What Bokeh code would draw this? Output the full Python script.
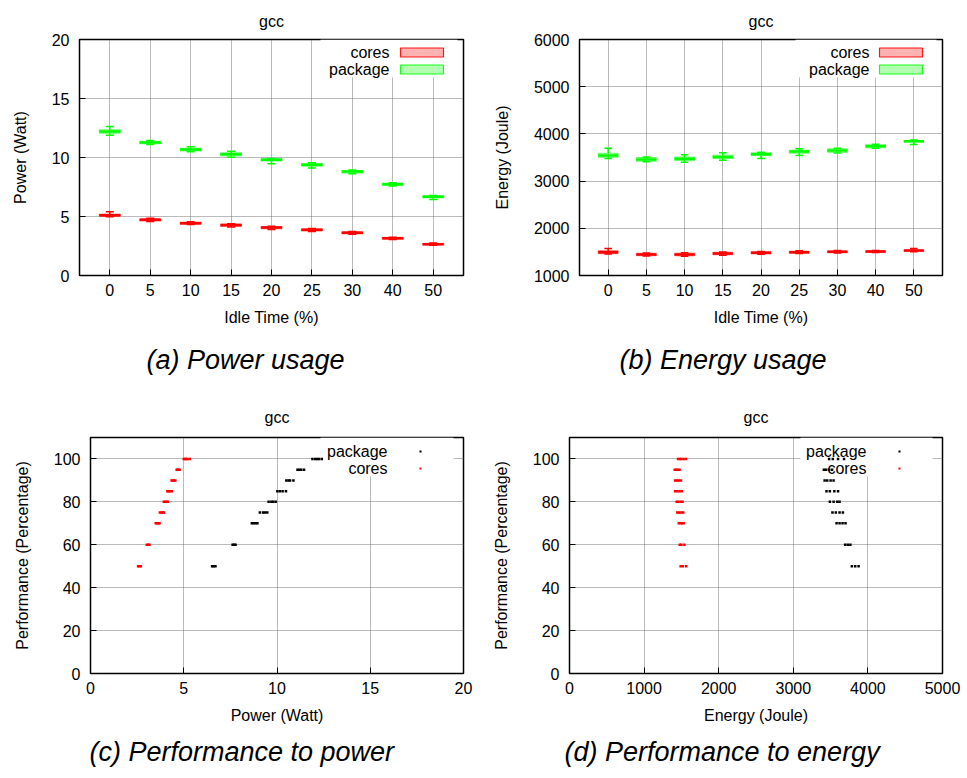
from bokeh.plotting import figure
from bokeh.models import (Range1d, FixedTicker, Label, Title,
                          BoxAnnotation, ColumnDataSource)
from bokeh.layouts import column, row
from bokeh.embed import file_html
from bokeh.resources import INLINE

FONT = "Liberation Sans"
RED = "#ff0000"
GREEN = "#00ff00"
BLACK = "#000000"

# ---------------- data ----------------
idle_labels = ["0", "5", "10", "15", "20", "25", "30", "40", "50"]
idle_pos = list(range(len(idle_labels)))
perf_levels = [100, 95, 90, 85, 80, 75, 70, 60, 50]

# (a) power box plots (Watt)
pkg_pw_med = [12.20, 11.27, 10.68, 10.28, 9.80, 9.38, 8.81, 7.74, 6.67]
pkg_pw_q1 = [12.05, 11.17, 10.55, 10.13, 9.70, 9.26, 8.68, 7.64, 6.58]
pkg_pw_q3 = [12.35, 11.37, 10.78, 10.40, 9.90, 9.50, 8.90, 7.83, 6.76]
pkg_pw_lo = [11.88, 11.10, 10.48, 10.02, 9.48, 9.12, 8.62, 7.58, 6.45]
pkg_pw_hi = [12.62, 11.45, 10.92, 10.52, 9.92, 9.55, 8.95, 7.86, 6.78]

cor_pw_med = [5.11, 4.72, 4.43, 4.27, 4.07, 3.87, 3.62, 3.16, 2.65]
cor_pw_q1 = [5.02, 4.62, 4.35, 4.16, 3.96, 3.77, 3.53, 3.08, 2.59]
cor_pw_q3 = [5.20, 4.80, 4.52, 4.35, 4.15, 3.95, 3.70, 3.23, 2.72]
cor_pw_lo = [4.98, 4.58, 4.32, 4.12, 3.90, 3.72, 3.50, 3.05, 2.57]
cor_pw_hi = [5.40, 4.85, 4.56, 4.38, 4.18, 3.98, 3.73, 3.25, 2.76]

# (b) energy box plots (Joule)
pkg_en_med = [3545, 3458, 3472, 3512, 3570, 3625, 3648, 3740, 3846]
pkg_en_q1 = [3505, 3420, 3435, 3478, 3540, 3590, 3610, 3705, 3828]
pkg_en_q3 = [3590, 3500, 3510, 3550, 3600, 3655, 3685, 3770, 3862]
pkg_en_lo = [3480, 3410, 3402, 3443, 3480, 3542, 3595, 3695, 3775]
pkg_en_hi = [3697, 3510, 3556, 3599, 3610, 3683, 3695, 3780, 3870]

cor_en_med = [1494, 1445, 1445, 1466, 1480, 1494, 1501, 1508, 1528]
cor_en_q1 = [1462, 1420, 1418, 1440, 1458, 1472, 1482, 1490, 1512]
cor_en_q3 = [1525, 1470, 1472, 1492, 1502, 1515, 1520, 1525, 1540]
cor_en_lo = [1455, 1412, 1410, 1430, 1448, 1465, 1478, 1485, 1505]
cor_en_hi = [1573, 1478, 1480, 1500, 1510, 1525, 1528, 1532, 1573]

# (c) performance vs power samples (one list per perf level)
cor_pw_samples = [
    [5.00, 5.08, 5.12, 5.20, 5.32],
    [4.62, 4.68, 4.72, 4.78],
    [4.35, 4.42, 4.47, 4.55],
    [4.12, 4.20, 4.27, 4.36],
    [3.93, 4.02, 4.08, 4.15],
    [3.72, 3.82, 3.88, 3.94],
    [3.50, 3.58, 3.64, 3.70],
    [3.02, 3.10, 3.16],
    [2.55, 2.63, 2.70],
]
pkg_pw_samples = [
    [11.90, 12.05, 12.15, 12.25, 12.40],
    [11.10, 11.20, 11.30, 11.45],
    [10.50, 10.62, 10.70, 10.88],
    [10.02, 10.15, 10.30, 10.48],
    [9.55, 9.70, 9.80, 9.93],
    [9.08, 9.25, 9.35, 9.48],
    [8.65, 8.75, 8.85, 8.95],
    [7.62, 7.70, 7.78],
    [6.52, 6.60, 6.70],
]
# (d) performance vs energy samples
cor_en_samples = [
    [1455, 1480, 1500, 1530, 1560],
    [1410, 1430, 1450, 1475],
    [1415, 1440, 1465, 1495],
    [1415, 1445, 1475, 1505],
    [1437, 1460, 1490, 1515],
    [1445, 1470, 1500, 1525],
    [1465, 1490, 1510, 1530],
    [1478, 1500, 1540],
    [1490, 1520, 1565],
]
pkg_en_samples = [
    [3480, 3530, 3600, 3680],
    [3410, 3440, 3480, 3520],
    [3420, 3455, 3500, 3540],
    [3445, 3490, 3550, 3600],
    [3490, 3540, 3590, 3620],
    [3525, 3570, 3620, 3665],
    [3580, 3620, 3660, 3700],
    [3695, 3730, 3765],
    [3785, 3830, 3875],
]

BOXW = 0.52
CAPW = 0.2


def fx(p, fw, px):
    r = p.x_range
    return r.start + (r.end - r.start) * px / fw


def fy(p, fh, px):
    r = p.y_range
    return r.end - (r.end - r.start) * px / fh


def make_fig(width, height, xr, yr, left, right, top, bottom, xticks, yticks,
             xlabel, ylabel, caption, cap_left, title_standoff, cap_standoff,
             xoverrides=None):
    p = figure(width=width, height=height, x_range=xr, y_range=yr,
               output_backend="svg", toolbar_location=None,
               min_border_left=left, min_border_right=right,
               min_border_top=top, min_border_bottom=bottom)
    xa = p.below[0]
    ya = p.left[0]
    p.background_fill_color = "white"
    p.border_fill_color = "white"
    p.outline_line_color = "black"
    p.outline_line_width = 1.5
    p.outline_line_alpha = 1.0
    p.title.text = "gcc"
    p.title.align = "center"
    p.title.text_font = FONT
    p.title.text_font_size = "16px"
    p.title.text_font_style = "normal"
    p.title.text_color = "black"
    p.title.standoff = title_standoff

    xa.ticker = FixedTicker(ticks=xticks)
    ya.ticker = FixedTicker(ticks=yticks)
    if xoverrides:
        xa.major_label_overrides = xoverrides
    for ax in (xa, ya):
        ax.axis_line_color = None
        ax.major_tick_in = 6
        ax.major_tick_out = 0
        ax.major_tick_line_color = "black"
        ax.major_tick_line_width = 1
        ax.minor_tick_line_color = None
        ax.major_label_text_font = FONT
        ax.major_label_text_font_size = "16px"
        ax.major_label_text_color = "black"
        ax.axis_label_text_font = FONT
        ax.axis_label_text_font_size = "16px"
        ax.axis_label_text_font_style = "normal"
        ax.axis_label_text_color = "black"
    xa.axis_label = xlabel
    ya.axis_label = ylabel
    xa.major_label_standoff = 8
    ya.major_label_standoff = 10
    xa.axis_label_standoff = 10
    ya.axis_label_standoff = 20

    grids = [r for r in p.center if r.__class__.__name__ == "Grid"]
    for g in grids:
        g.grid_line_color = "#666666"
        g.grid_line_dash = "1 1"
        g.grid_line_width = 1
        g.grid_line_alpha = 0.9
        g.ticker = FixedTicker(ticks=xticks if g.dimension == 0 else yticks)

    # sub-figure caption below the axis
    cap = Title(text=caption, align="left", offset=cap_left, vertical_align="middle",
                text_font=FONT, text_font_size="27px",
                text_font_style="italic", text_color="black", standoff=cap_standoff)
    p.add_layout(cap, "below")
    return p


def draw_boxes(p, q1, med, q3, lo, hi, color):
    src = ColumnDataSource(dict(x=idle_pos, q1=q1, med=med, q3=q3, lo=lo, hi=hi))
    p.segment(x0="x", y0="lo", x1="x", y1="q1", source=src, line_color=color, line_width=1.5)
    p.segment(x0="x", y0="q3", x1="x", y1="hi", source=src, line_color=color, line_width=1.5)
    p.rect(x="x", y="lo", width=CAPW, height=1.5, height_units="screen", source=src,
           fill_color=color, line_color=None)
    p.rect(x="x", y="hi", width=CAPW, height=1.5, height_units="screen", source=src,
           fill_color=color, line_color=None)
    p.vbar(x="x", width=BOXW, bottom="q1", top="q3", source=src, fill_color=color,
           fill_alpha=0.3, line_color=color, line_alpha=0.55, line_width=1)
    p.rect(x="x", y="med", width=BOXW, height=2.5, height_units="screen", source=src,
           fill_color=color, line_color=None)


def box_legend(p, fw, fh, names, colors, text_right, sw_l, sw_r, rows, bg_l, bg_r, bg_b):
    p.add_layout(BoxAnnotation(left=fx(p, fw, bg_l), right=fx(p, fw, bg_r),
                               top=fy(p, fh, 0), bottom=fy(p, fh, bg_b),
                               fill_color="white", fill_alpha=1, line_color=None,
                               level="underlay"))
    for name, col, ry in zip(names, colors, rows):
        p.add_layout(Label(x=fx(p, fw, text_right), y=fy(p, fh, ry), text=name,
                           text_align="right", text_baseline="middle", text_font=FONT,
                           text_font_size="16px", text_color="black"))
        p.add_layout(BoxAnnotation(left=fx(p, fw, sw_l), right=fx(p, fw, sw_r),
                                   top=fy(p, fh, ry - 4.5), bottom=fy(p, fh, ry + 4.5),
                                   fill_color=col, fill_alpha=0.3, line_color=col,
                                   line_width=1.2, line_alpha=0.9))


def dot_legend(p, fw, fh, names, colors, text_right, dot_x, rows, bg_l, bg_r, bg_b):
    p.add_layout(BoxAnnotation(left=fx(p, fw, bg_l), right=fx(p, fw, bg_r),
                               top=fy(p, fh, 0), bottom=fy(p, fh, bg_b),
                               fill_color="white", fill_alpha=1, line_color=None,
                               level="underlay"))
    for name, col, ry in zip(names, colors, rows):
        p.add_layout(Label(x=fx(p, fw, text_right), y=fy(p, fh, ry), text=name,
                           text_align="right", text_baseline="middle", text_font=FONT,
                           text_font_size="16px", text_color="black"))
        p.add_layout(BoxAnnotation(left=fx(p, fw, dot_x - 1), right=fx(p, fw, dot_x + 1),
                                   top=fy(p, fh, ry - 1), bottom=fy(p, fh, ry + 1),
                                   fill_color=col, fill_alpha=1, line_color=None))


def flat(samples):
    xs, ys = [], []
    for perf, vals in zip(perf_levels, samples):
        for v in vals:
            xs.append(v)
            ys.append(perf)
    return xs, ys


overrides = {i: s for i, s in enumerate(idle_labels)}

# ---------------- (a) ----------------
pa = make_fig(480, 395, Range1d(-0.75, 8.75), Range1d(0, 20), 79, 17, 39, 120,
              idle_pos, [0, 5, 10, 15, 20], "Idle Time (%)", "Power (Watt)",
              "(a) Power usage", 67, 20, 30, overrides)
draw_boxes(pa, cor_pw_q1, cor_pw_med, cor_pw_q3, cor_pw_lo, cor_pw_hi, RED)
draw_boxes(pa, pkg_pw_q1, pkg_pw_med, pkg_pw_q3, pkg_pw_lo, pkg_pw_hi, GREEN)
box_legend(pa, 384, 236, ["cores", "package"], [RED, GREEN], 310, 321, 364, [13, 30],
           241, 378, 38)

# ---------------- (b) ----------------
pb = make_fig(487, 395, Range1d(-0.75, 8.75), Range1d(1000, 6000), 99, 25, 39, 120,
              idle_pos, [1000, 2000, 3000, 4000, 5000, 6000], "Idle Time (%)",
              "Energy (Joule)", "(b) Energy usage", 40, 20, 30, overrides)
draw_boxes(pb, cor_en_q1, cor_en_med, cor_en_q3, cor_en_lo, cor_en_hi, RED)
draw_boxes(pb, pkg_en_q1, pkg_en_med, pkg_en_q3, pkg_en_lo, pkg_en_hi, GREEN)
box_legend(pb, 363, 236, ["cores", "package"], [RED, GREEN], 290, 300, 343, [13, 30],
           216, 357, 38)

# ---------------- (c) ----------------
pc = make_fig(480, 383, Range1d(0, 20), Range1d(0, 110), 90, 17, 42, 105,
              [0, 5, 10, 15, 20], [0, 20, 40, 60, 80, 100], "Power (Watt)",
              "Performance (Percentage)", "(c) Performance to power", -1, 23, 18)
xs, ys = flat(pkg_pw_samples)
pc.scatter(xs, ys, marker="square", size=2.5, fill_color=BLACK, line_color=None)
xs, ys = flat(cor_pw_samples)
pc.scatter(xs, ys, marker="square", size=2.5, fill_color=RED, line_color=None)
dot_legend(pc, 373, 236, ["package", "cores"], [BLACK, RED], 297, 330, [14, 31],
           230, 363, 39)

# ---------------- (d) ----------------
pd_ = make_fig(487, 383, Range1d(0, 5000), Range1d(0, 110), 89, 25, 42, 105,
               [0, 1000, 2000, 3000, 4000, 5000], [0, 20, 40, 60, 80, 100],
               "Energy (Joule)", "Performance (Percentage)",
               "(d) Performance to energy", -5, 23, 18)
xs, ys = flat(pkg_en_samples)
pd_.scatter(xs, ys, marker="square", size=2.5, fill_color=BLACK, line_color=None)
xs, ys = flat(cor_en_samples)
pd_.scatter(xs, ys, marker="square", size=2.5, fill_color=RED, line_color=None)
dot_legend(pd_, 373, 236, ["package", "cores"], [BLACK, RED], 297, 330, [14, 31],
           231, 363, 39)

layout = column(row(pa, pb), row(pc, pd_))
open("out.html", "w").write(file_html(layout, INLINE))
